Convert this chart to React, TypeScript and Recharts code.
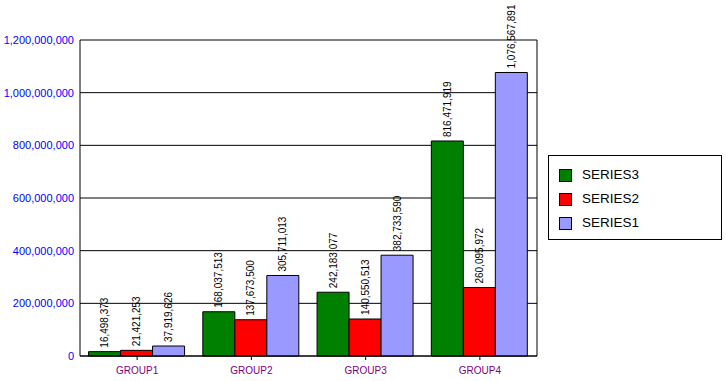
import React from 'react';
import { BarChart, Bar, XAxis, YAxis, CartesianGrid, Legend, LabelList } from 'recharts';

const groups = ['GROUP1', 'GROUP2', 'GROUP3', 'GROUP4'];
const series3 = [16498373, 168037513, 242183077, 816471919];
const series2 = [21421253, 137673500, 140550513, 260095972];
const series1 = [37919626, 305711013, 382733590, 1076567891];
const yTicks = [0, 200000000, 400000000, 600000000, 800000000, 1000000000, 1200000000];

const seriesDefs = [
  { key: 'SERIES3', color: '#008000' },
  { key: 'SERIES2', color: '#FF0000' },
  { key: 'SERIES1', color: '#9999FF' },
];

const data = groups.map((g, i) => ({
  name: g,
  SERIES3: series3[i],
  SERIES2: series2[i],
  SERIES1: series1[i],
}));

const FONT = '"Liberation Sans", Arial, sans-serif';
const fmt = (v: number) => v.toLocaleString('en-US');

const RotLabel = (props: any) => {
  const { x, y, width, value } = props;
  const cx = Number(x) + Number(width) / 2;
  const ty = Number(y) - 4;
  return (
    <text
      x={cx}
      y={ty}
      transform={`rotate(-90, ${cx}, ${ty})`}
      textAnchor="start"
      dominantBaseline="central"
      fontSize={10}
      fontFamily={FONT}
      fill="#000"
    >
      {fmt(Number(value))}
    </text>
  );
};

const LegendBox = () => {
  return (
    <div
      style={{
        width: 174,
        height: 85,
        border: '1px solid #000',
        boxSizing: 'border-box',
        background: '#fff',
        position: 'relative',
        fontFamily: FONT,
      }}
    >
      {seriesDefs.map((s, i) => (
        <div
          key={s.key}
          style={{
            position: 'absolute',
            left: 10,
            top: 12 + i * 24,
            height: 14,
            display: 'flex',
            alignItems: 'center',
          }}
        >
          <div
            style={{
              width: 13,
              height: 13,
              background: s.color,
              border: '1px solid #000',
              boxSizing: 'border-box',
            }}
          />
          <span style={{ marginLeft: 10, fontSize: 13.5, color: '#000', lineHeight: '14px' }}>{s.key}</span>
        </div>
      ))}
    </div>
  );
};

export default function App() {
  return (
    <div style={{ position: 'absolute', left: 0, top: 0, width: 726, height: 381, background: '#fff' }}>
      <BarChart
        width={726}
        height={381}
        data={data}
        margin={{ top: 40, right: 188, bottom: 0, left: 0 }}
        barCategoryGap="7.5%"
        barGap={0}
      >
        <CartesianGrid vertical={false} stroke="#000" strokeWidth={1} />
        <XAxis
          dataKey="name"
          height={25}
          axisLine={{ stroke: '#000' }}
          tickLine={{ stroke: '#000' }}
          tickSize={4}
          tickMargin={7}
          tick={{ fill: '#800080', fontSize: 10, fontFamily: FONT }}
          interval={0}
        />
        <YAxis
          width={80}
          domain={[0, 1200000000]}
          ticks={yTicks}
          tickFormatter={fmt}
          axisLine={{ stroke: '#000' }}
          tickLine={false}
          tickSize={0}
          tickMargin={6}
          tick={{ fill: '#0000FF', fontSize: 11, fontFamily: FONT }}
          interval={0}
        />
        <YAxis
          yAxisId="right"
          orientation="right"
          width={1}
          domain={[0, 1200000000]}
          ticks={yTicks}
          tick={false}
          tickLine={false}
          axisLine={{ stroke: '#000' }}
        />
        <Legend
          layout="horizontal"
          verticalAlign="middle"
          align="center"
          content={<LegendBox />}
          wrapperStyle={{ position: 'absolute', left: 548, top: 155, width: 174, height: 85 }}
        />
        {seriesDefs.map((s) => (
          <Bar
            key={s.key}
            dataKey={s.key}
            name={s.key}
            fill={s.color}
            stroke="#000"
            strokeWidth={1}
            isAnimationActive={false}
          >
            <LabelList dataKey={s.key} content={<RotLabel />} />
          </Bar>
        ))}
      </BarChart>
    </div>
  );
}
